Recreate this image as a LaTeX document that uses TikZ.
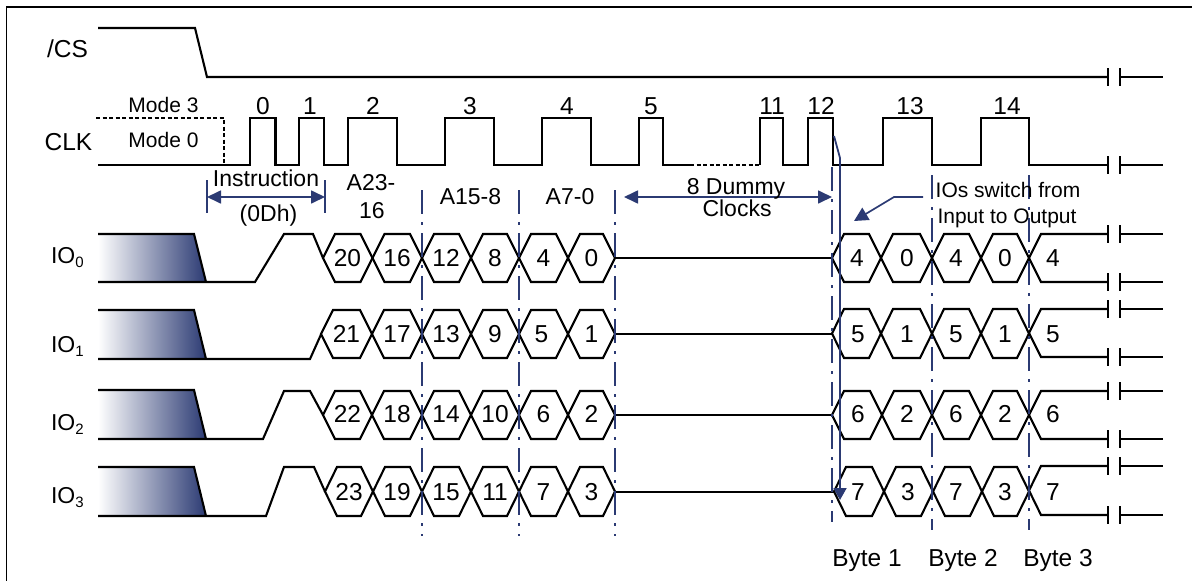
\documentclass[tikz,border=0pt]{standalone}
\usepackage{fontspec}
\setmainfont{Liberation Sans}
\usetikzlibrary{arrows.meta}
\definecolor{navy}{HTML}{2B3A73}
\newcommand{\iolab}[1]{IO\raisebox{-4pt}{\fontsize{15}{15}\selectfont #1}}
\newcommand{\hexcell}[4]{\draw[wave] (#1,{(#3+#4)/2}) -- ({#1+12},#3) -- ({#2-12},#3) -- (#2,{(#3+#4)/2}) -- ({#2-12},#4) -- ({#1+12},#4) -- cycle;}
\newcommand{\brk}[1]{\draw[wave] (1108,{#1-9}) -- (1108,{#1+9}) (1120,{#1-9}) -- (1120,{#1+9}); \draw[wave] (1120,#1) -- (1163,#1);}
\tikzset{
  wave/.style={draw=black,line width=2.1pt,line join=miter},
  txt/.style={anchor=base,inner sep=0pt,outer sep=0pt,font=\fontsize{23}{26}\selectfont,text=black},
  digit/.style={txt,font=\fontsize{24.5}{26}\selectfont},
  smalltxt/.style={txt,font=\fontsize{21}{24}\selectfont},
  biglab/.style={txt,font=\fontsize{24.5}{26}\selectfont},
  iotxt/.style={txt,anchor=base west,font=\fontsize{23}{26}\selectfont},
  divider/.style={draw=navy,line width=1.8pt,dash pattern=on 24pt off 8pt on 3pt off 8pt},
  dim/.style={draw=navy,line width=1.7pt,{Triangle[length=14pt,width=13pt]}-{Triangle[length=14pt,width=13pt]}},
  thinbar/.style={draw=navy,line width=1.5pt},
  call/.style={draw=navy,line width=1.7pt,-{Triangle[length=14pt,width=14pt]}}
}
\begin{document}
\begin{tikzpicture}[x=1pt,y=-1pt]
\useasboundingbox (0,0) rectangle (1192,581);
\fill[white] (0,0) rectangle (1192,581);
\draw[black,line width=1.8pt] (6.5,581) -- (6.5,7) -- (1192,7);
% gradient blocks
\foreach \t/\b in {234/282,310/359,390/439,467/516}{
  \shade[left color=white,right color=navy,shading angle=90] (98,\t) -- (194,\t) -- (206,\b) -- (98,\b) -- cycle;
}
% CS
\draw[wave] (98,28) -- (195,28) -- (207,77) -- (1108,77);
\brk{77}
% CLK
\draw[wave,dash pattern=on 4pt off 2.5pt,line width=1.6pt] (96,118) -- (224,118) -- (224,165);
\draw[wave] (98,165) -- (250,165) |- (275.5,118) |- (299,165) |- (324,118) |- (348,165) |- (397,118) |- (445,165) |- (494,118) |- (542,165) |- (591,118) |- (639,165) |- (663,118) |- (690,165);
\draw[wave] (663,165) -- (690,165);
\draw[wave,dash pattern=on 4pt off 2.5pt] (690,165) -- (760,165);
\draw[wave] (760,165) -- (760,118) -- (783,118) -- (783,165) -- (808,165) -- (808,118) -- (833,118) -- (833,165) -- (883,165) -- (883,118) -- (932,118) -- (932,165) -- (981,165) -- (981,118) -- (1029,118) -- (1029,165) -- (1108,165);
\brk{165}
% IO rows left segments
\draw[wave] (98,234) -- (194,234) -- (206,282) (98,282) -- (255,282) -- (284,234) -- (313,234) -- (323,258);
\draw[wave] (98,310) -- (194,310) -- (206,359) (98,359) -- (310,359) -- (321,334.5);
\draw[wave] (98,390) -- (194,390) -- (206,439) (98,439) -- (263,439) -- (284,391) -- (310,391) -- (323,415);
\draw[wave] (98,467) -- (194,467) -- (206,516) (98,516) -- (266,516) -- (284,467) -- (314,467) -- (325,491.5);
% hex cells
\foreach \a/\c in {323/372.5,372.5/422,422/471,471/519,519/568,568/615}{\hexcell{\a}{\c}{234}{282}}
\foreach \a/\c in {321/372,372/422,422/471,471/519,519/568,568/615}{\hexcell{\a}{\c}{310}{358}}
\foreach \a/\c in {323/372,372/422,422/471,471/519,519/568,568/615}{\hexcell{\a}{\c}{391}{439}}
\foreach \a/\c in {325/373,373/422,422/471,471/519,519/568,568/615}{\hexcell{\a}{\c}{467}{516}}
\foreach \a/\c in {832/881,881/932,932/981,981/1029}{\hexcell{\a}{\c}{234}{282}}
\foreach \a/\c in {832/881,881/932,932/981,981/1029}{\hexcell{\a}{\c}{309}{358}}
\foreach \a/\c in {832/882,882/932,932/981,981/1029}{\hexcell{\a}{\c}{391}{439}}
\foreach \a/\c in {834/884,884/933,933/982,982/1029}{\hexcell{\a}{\c}{467}{516}}
% straight lines through the dummy clocks
\draw[wave] (615,258) -- (832,258);
\draw[wave] (615,334) -- (832,334);
\draw[wave] (615,415) -- (832,415);
\draw[wave] (615,492) -- (834,492);
% trailing ends
\foreach \t/\b in {234/282,309/357,391/439,466/515}{
  \draw[wave] (1029,{(\t+\b)/2}) -- (1041,\t) -- (1108,\t) (1029,{(\t+\b)/2}) -- (1041,\b) -- (1108,\b);
  \brk{\t}
  \brk{\b}
}
% dividers
\draw[divider] (422,190) -- (422,536);
\draw[divider] (519,190) -- (519,536);
\draw[divider] (615,190) -- (615,536);
\draw[divider] (832,167) -- (832,522);
\draw[divider] (932,175) -- (932,530);
\draw[divider] (1029,175) -- (1029,530);
% dimension arrows
\draw[thinbar] (207,180) -- (207,213) (325,180) -- (325,213);
\coordinate (ia) at (207,197); \coordinate (ib) at (325,197);
\draw[dim] (ia) -- (ib);
\coordinate (da) at (624,197); \coordinate (db) at (832,197);
\draw[dim] (da) -- (db);
% callouts
\coordinate (ca) at (923,197); \coordinate (cb) at (894,197); \coordinate (cc) at (854,221);
\draw[call] (ca) -- (cb) -- (cc);
\coordinate (sa) at (834,136); \coordinate (sb) at (840,158); \coordinate (sc) at (840,500);
\draw[call,line width=1.8pt,-{Triangle[length=12pt,width=13pt]}] (sa) -- (sb) -- (sc);
% labels
\node[biglab] (cs) at (67.5,57.5) {/CS};
\node[biglab] (clk) at (68.5,150) {CLK};
\node[smalltxt] (m3) at (163.5,112) {Mode 3};
\node[smalltxt] (m0) at (163.5,147.5) {Mode 0};
\foreach \n/\x in {0/263,1/310,2/373,3/470,4/567,5/651,11/772,12/821,13/910,14/1007}{
  \node[digit] (c\n) at (\x,114) {\n};
}
\node[txt] (instr) at (266,186) {Instruction};
\node[txt] (odh) at (268.5,221.5) {(0Dh)};
\node[txt] (a23) at (371,190.5) {A23-};
\node[txt] (a16) at (372,218) {16};
\node[txt] (a158) at (470.5,204) {A15-8};
\node[txt] (a70) at (570,204) {A7-0};
\node[txt] (dum) at (736,194) {8 Dummy};
\node[txt] (clo) at (737,216.5) {Clocks};
\node[smalltxt] (ios) at (1008,197) {IOs switch from};
\node[smalltxt] (inp) at (1007,223) {Input to Output};
\node[iotxt] (io0) at (51,263) {\iolab{0}};
\node[iotxt] (io1) at (51,352) {\iolab{1}};
\node[iotxt] (io2) at (51,430) {\iolab{2}};
\node[iotxt] (io3) at (51,503) {\iolab{3}};
% hex digits
\foreach \n/\x/\l in {20/347.5/a,16/397/b,12/446/c,8/495/d,4/543.5/e,0/591.5/f,4/857/g,0/907/h,4/956/i,0/1005/j,4/1053/k}{
  \node[digit] (ra\l) at (\x,266.5) {\n};
}
\foreach \n/\x/\l in {21/346.5/a,17/397/b,13/446/c,9/495/d,5/541.5/e,1/591.5/f,5/858/g,1/907/h,5/956/i,1/1005/j,5/1053/k}{
  \node[digit] (rb\l) at (\x,342.5) {\n};
}
\foreach \n/\x/\l in {22/347.5/a,18/397/b,14/446/c,10/495/d,6/543.5/e,2/591.5/f,6/858/g,2/907/h,6/956/i,2/1005/j,6/1053/k}{
  \node[digit] (rc\l) at (\x,422) {\n};
}
\foreach \n/\x/\l in {23/349/a,19/397/b,15/446/c,11/495/d,7/543.5/e,3/591.5/f,7/858/g,3/908/h,7/956/i,3/1005/j,7/1053/k}{
  \node[digit] (rd\l) at (\x,500) {\n};
}
\node[biglab] (b1) at (867,566) {Byte 1};
\node[biglab] (b2) at (963,566) {Byte 2};
\node[biglab] (b3) at (1058,566) {Byte 3};
\end{tikzpicture}
\end{document}
